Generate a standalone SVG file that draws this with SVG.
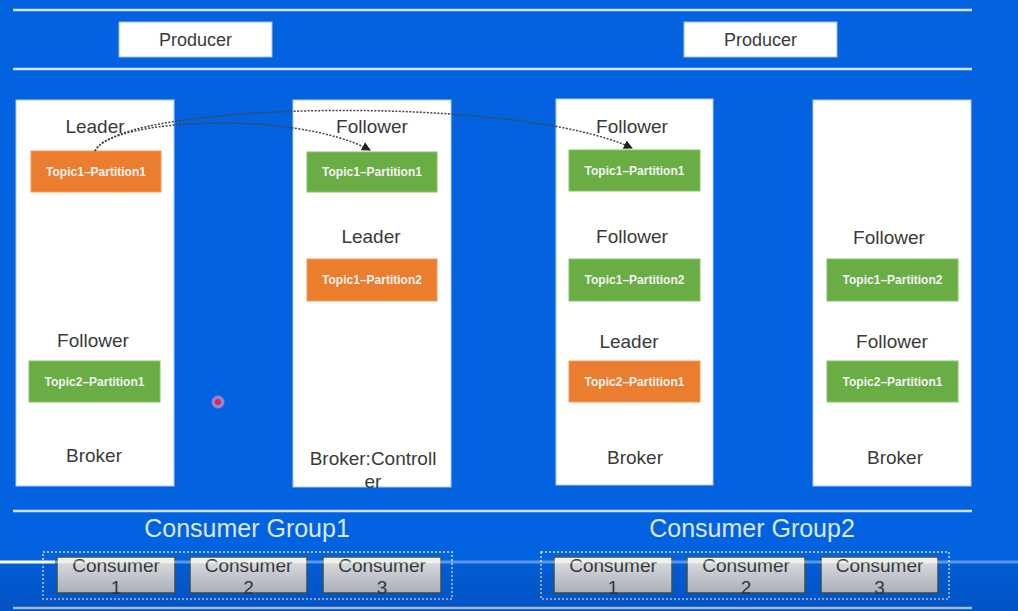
<svg xmlns="http://www.w3.org/2000/svg" width="1018" height="611" viewBox="0 0 1018 611">
<style>
.rule{stroke:#d3e3ff;stroke-width:2.5;fill:none}
.prod{fill:#ffffff;stroke:#9ebce6;stroke-width:1}
.broker{fill:#ffffff;stroke:#b5cbee;stroke-width:1}
.lbl{font-family:"Liberation Sans",Arial,sans-serif;font-size:19px;fill:#3a3a3a;text-anchor:middle}
.plbl{font-family:"Liberation Sans",Arial,sans-serif;font-size:18px;fill:#3a3a3a;text-anchor:middle}
.green{fill:#6aad45;stroke:#86c266;stroke-width:1}
.orange{fill:#eb7d2f;stroke:#f29a5c;stroke-width:1}
.ptxt{font-family:"Liberation Sans",Arial,sans-serif;font-size:12px;font-weight:bold;fill:#f2f2f2;text-anchor:middle}
.grp{font-family:"Liberation Sans",Arial,sans-serif;font-size:25px;fill:#dbe8ff;text-anchor:middle}
.dash{fill:none;stroke:#d3e3ff;stroke-width:1.5;stroke-dasharray:2 2}
.cons{fill:url(#cg);stroke:#3b5b4a;stroke-width:1.5}
.ctxt{font-family:"Liberation Sans",Arial,sans-serif;font-size:19px;fill:#3a3a3a;text-anchor:middle}
.rep{fill:none;stroke:#444;stroke-width:1.5;stroke-dasharray:2 1.5}
</style>
<defs>
<linearGradient id="cg" x1="0" y1="0" x2="0" y2="1">
<stop offset="0" stop-color="#efefed"/>
<stop offset="1" stop-color="#cdcdca"/>
</linearGradient>
<linearGradient id="shade" x1="0" y1="0" x2="0" y2="1">
<stop offset="0" stop-color="#001a60" stop-opacity="0.08"/>
<stop offset="1" stop-color="#001a60" stop-opacity="0.22"/>
</linearGradient>
<marker id="ah" markerWidth="9" markerHeight="9" refX="8" refY="4.5" orient="auto" markerUnits="userSpaceOnUse">
<path d="M0,0 L9,4.5 L0,9 Z" fill="#222"/>
</marker>
</defs>
<rect x="0" y="0" width="1018" height="611" fill="#0262e0"/>
<line class="rule" x1="13" y1="10" x2="972" y2="10"/>
<line class="rule" x1="13" y1="69" x2="972" y2="69"/>
<line class="rule" x1="13" y1="511" x2="972" y2="511"/>
<line class="rule" x1="13" y1="608" x2="972" y2="608"/>

<g id="producer1"><rect class="prod" x="119" y="22" width="153" height="35"/><text class="plbl" x="195.5" y="46">Producer</text></g>
<g id="producer2"><rect class="prod" x="684" y="22" width="153" height="35"/><text class="plbl" x="760.5" y="46">Producer</text></g>

<g id="broker1">
<rect class="broker" x="16" y="100" width="158" height="386"/>
<text class="lbl" x="95" y="133">Leader</text>
<rect class="orange" x="31" y="151" width="130" height="41"/>
<text class="ptxt" x="96" y="176">Topic1–Partition1</text>
<text class="lbl" x="93" y="347">Follower</text>
<rect class="green" x="29" y="361" width="131" height="41"/>
<text class="ptxt" x="94.5" y="386">Topic2–Partition1</text>
<text class="lbl" x="94" y="462">Broker</text>
</g>

<g id="broker2">
<rect class="broker" x="293" y="100" width="158" height="387"/>
<text class="lbl" x="372" y="133">Follower</text>
<rect class="green" x="307" y="152" width="130" height="40"/>
<text class="ptxt" x="372" y="176">Topic1–Partition1</text>
<text class="lbl" x="371" y="243">Leader</text>
<rect class="orange" x="307" y="259" width="130" height="42"/>
<text class="ptxt" x="372" y="284">Topic1–Partition2</text>
<text class="lbl" x="373" y="465">Broker:Controll</text>
<text class="lbl" x="373" y="488">er</text>
</g>

<g id="broker3">
<rect class="broker" x="556" y="99" width="157" height="386"/>
<text class="lbl" x="632" y="133">Follower</text>
<rect class="green" x="569" y="150" width="131" height="41"/>
<text class="ptxt" x="634.5" y="175">Topic1–Partition1</text>
<text class="lbl" x="632" y="243">Follower</text>
<rect class="green" x="569" y="259" width="131" height="42"/>
<text class="ptxt" x="634.5" y="284">Topic1–Partition2</text>
<text class="lbl" x="629" y="348">Leader</text>
<rect class="orange" x="569" y="361" width="131" height="41"/>
<text class="ptxt" x="634.5" y="386">Topic2–Partition1</text>
<text class="lbl" x="635" y="464">Broker</text>
</g>

<g id="broker4">
<rect class="broker" x="813" y="100" width="158" height="386"/>
<text class="lbl" x="889" y="244">Follower</text>
<rect class="green" x="827" y="259" width="131" height="42"/>
<text class="ptxt" x="892.5" y="284">Topic1–Partition2</text>
<text class="lbl" x="892" y="348">Follower</text>
<rect class="green" x="827" y="361" width="131" height="41"/>
<text class="ptxt" x="892.5" y="386">Topic2–Partition1</text>
<text class="lbl" x="895" y="464">Broker</text>
</g>

<g id="connectors">
<path class="rep" d="M95,151 C110,118 295,110 370,150" marker-end="url(#ah)"/>
<path class="rep" d="M95,151 C120,100 520,95 632,148" marker-end="url(#ah)"/>
</g>

<g id="group1">
<text class="grp" x="247" y="537">Consumer Group1</text>
<rect class="dash" x="43" y="552" width="409" height="47"/>
</g>
<g id="consumer1-1"><rect class="cons" x="57" y="557" width="118" height="36"/><text class="ctxt" x="116" y="572">Consumer</text><text class="ctxt" x="116" y="594">1</text></g>
<g id="consumer1-2"><rect class="cons" x="190" y="557" width="117" height="36"/><text class="ctxt" x="248.5" y="572">Consumer</text><text class="ctxt" x="248.5" y="594">2</text></g>
<g id="consumer1-3"><rect class="cons" x="323" y="557" width="118" height="36"/><text class="ctxt" x="382" y="572">Consumer</text><text class="ctxt" x="382" y="594">3</text></g>

<g id="group2">
<text class="grp" x="752" y="537">Consumer Group2</text>
<rect class="dash" x="541" y="552" width="408" height="47"/>
</g>
<g id="consumer2-1"><rect class="cons" x="554" y="557" width="118" height="36"/><text class="ctxt" x="613" y="572">Consumer</text><text class="ctxt" x="613" y="594">1</text></g>
<g id="consumer2-2"><rect class="cons" x="687" y="557" width="118" height="36"/><text class="ctxt" x="746" y="572">Consumer</text><text class="ctxt" x="746" y="594">2</text></g>
<g id="consumer2-3"><rect class="cons" x="821" y="557" width="117" height="36"/><text class="ctxt" x="879.5" y="572">Consumer</text><text class="ctxt" x="879.5" y="594">3</text></g>

<rect x="0" y="563" width="1018" height="48" fill="url(#shade)"/>
<line x1="55" y1="562" x2="1018" y2="562" stroke="#ffffff" stroke-opacity="0.35" stroke-width="3"/>
<line x1="0" y1="562" x2="55" y2="562" stroke="#ffffff" stroke-width="3"/>
<circle cx="218" cy="402" r="6.5" fill="#f0a0c0" fill-opacity="0.6"/>
<circle cx="218" cy="402" r="3" fill="#e8204a"/>
</svg>
